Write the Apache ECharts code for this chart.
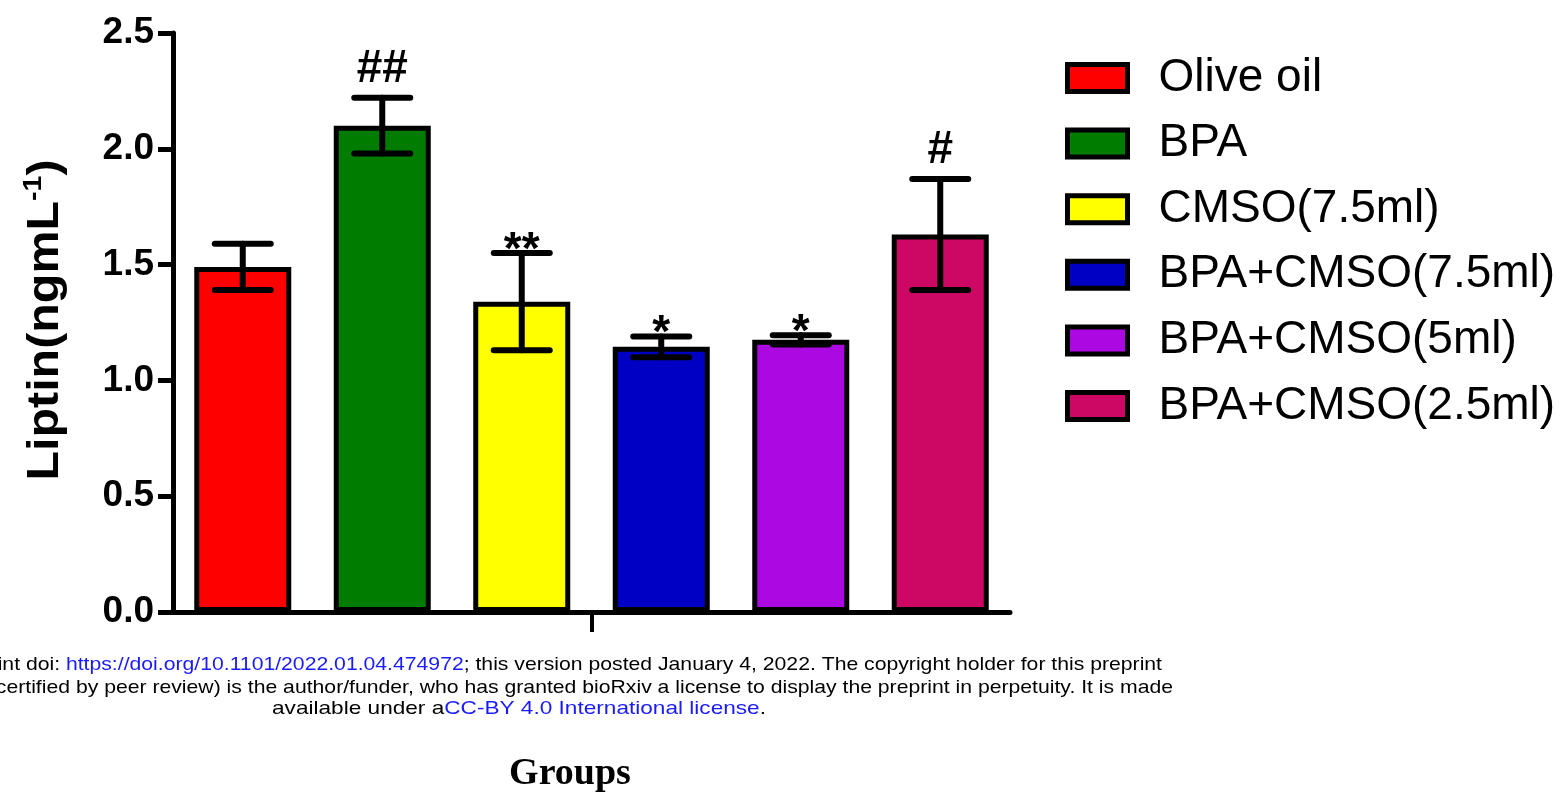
<!DOCTYPE html>
<html>
<head>
<meta charset="utf-8">
<script src="https://cdn.jsdelivr.net/npm/echarts@6/dist/echarts.min.js"></script>
<style>
  html, body { margin: 0; padding: 0; background: #fff; }
  #chart { width: 1560px; height: 802px; }
</style>
</head>
<body>
<div id="chart"></div>
<script>
// Leptin level per treatment group (mean ± SEM)
const groups = ['Olive oil', 'BPA', 'CMSO(7.5ml)', 'BPA+CMSO(7.5ml)', 'BPA+CMSO(5ml)', 'BPA+CMSO(2.5ml)'];
const means = [1.49, 2.10, 1.34, 1.145, 1.175, 1.63];
const sems = [0.10, 0.12, 0.21, 0.045, 0.02, 0.24];
const marks = ['', '##', '**', '*', '*', '#'];
const colors = ['#ff0000', '#007d00', '#ffff00', '#0000c4', '#ac08e2', '#cd0864'];
const yTicks = [0, 0.5, 1.0, 1.5, 2.0, 2.5];

const SANS = '"Liberation Sans", Arial, Helvetica, sans-serif';
const SERIF = '"Liberation Serif", "Times New Roman", serif';
const LINK = '#1a1aff';

const chart = echarts.init(document.getElementById('chart'), null, { renderer: 'canvas' });

// One bar series per group so every group gets its own legend entry
const barSeries = groups.map((name, i) => ({
  name,
  type: 'bar',
  barWidth: 97,
  barGap: '-100%',
  itemStyle: { color: colors[i], borderColor: '#000', borderWidth: 5 },
  data: groups.map((g, j) => (j === i ? means[i] : '-')),
  z: 2
}));

// Error bars with significance marks above the upper cap
const errorSeries = {
  name: 'SEM',
  type: 'custom',
  z: 5,
  data: means.map((m, i) => [i, m, sems[i]]),
  renderItem(params, api) {
    const i = api.value(0), m = api.value(1), s = api.value(2);
    const top = api.coord([i, m + s]);
    const bot = api.coord([i, m - s]);
    const x = top[0];
    const half = 28;
    const st = { stroke: '#000', lineWidth: 6, lineCap: 'round' };
    const children = [
      { type: 'line', shape: { x1: x, y1: top[1], x2: x, y2: bot[1] }, style: st },
      { type: 'line', shape: { x1: x - half, y1: top[1], x2: x + half, y2: top[1] }, style: st },
      { type: 'line', shape: { x1: x - half, y1: bot[1], x2: x + half, y2: bot[1] }, style: st }
    ];
    const mark = marks[params.dataIndex];
    if (mark) {
      const isHash = mark[0] === '#';
      children.push({
        type: 'text',
        x: x,
        y: top[1] - (isHash ? 29 : 2),
        style: {
          text: mark,
          font: 'bold 46px ' + SANS,
          fill: '#000',
          align: 'center',
          verticalAlign: 'middle'
        }
      });
    }
    return { type: 'group', children };
  }
};

const option = {
  backgroundColor: '#fff',
  animation: false,
  grid: { left: 173, right: 550, top: 33, bottom: 190 },
  legend: {
    data: groups,
    orient: 'vertical',
    left: 1065,
    top: 54,
    padding: 0,
    icon: 'rect',
    itemWidth: 60,
    itemHeight: 27,
    itemGap: 17.6,
    selectedMode: false,
    itemStyle: { borderColor: '#000', borderWidth: 5 },
    textStyle: {
      fontFamily: SANS,
      fontSize: 46,
      color: '#000',
      lineHeight: 48,
      padding: [0, 0, 0, 26]
    }
  },
  xAxis: [
    {
      type: 'category',
      data: groups,
      axisLine: { show: true, lineStyle: { color: '#000', width: 5 } },
      axisTick: { show: false },
      axisLabel: { show: false },
      splitLine: { show: false }
    },
    {
      // carries the single centre tick under the group axis
      type: 'value',
      min: 0,
      max: 2,
      position: 'bottom',
      axisLine: { show: false },
      axisTick: { show: true, customValues: [1], length: 20, lineStyle: { color: '#000', width: 4 } },
      axisLabel: { show: false },
      splitLine: { show: false }
    }
  ],
  yAxis: {
    type: 'value',
    min: yTicks[0],
    max: yTicks[yTicks.length - 1],
    interval: yTicks[1] - yTicks[0],
    axisLine: { show: true, lineStyle: { color: '#000', width: 5 } },
    axisTick: { show: true, length: 15, lineStyle: { color: '#000', width: 5 } },
    axisLabel: {
      margin: 19,
      fontFamily: SANS,
      fontSize: 37,
      fontWeight: 'bold',
      color: '#000',
      formatter: (v) => v.toFixed(1)
    },
    splitLine: { show: false }
  },
  graphic: [
    {
      type: 'text',
      x: 46,
      y: 320,
      rotation: Math.PI / 2,
      scaleX: 1.1,
      style: {
        text: '{a|Liptin(ngmL}{s|-1}{a|)}',
        align: 'center',
        verticalAlign: 'middle',
        rich: {
          a: { fontFamily: SANS, fontWeight: 'bold', fontSize: 44, lineHeight: 50, fill: '#000' },
          s: { fontFamily: SANS, fontWeight: 'bold', fontSize: 26, lineHeight: 50, verticalAlign: 'top', fill: '#000' }
        }
      }
    },
    {
      type: 'text',
      x: 570,
      y: 774,
      style: {
        text: 'Groups',
        font: 'bold 38px ' + SERIF,
        fill: '#000',
        align: 'center',
        verticalAlign: 'middle'
      }
    },
    {
      type: 'text',
      x: 1162,
      y: 665,
      scaleX: 1.115,
      style: {
        text: '{k|bioRxiv preprint doi: }{l|https://doi.org/10.1101/2022.01.04.474972}{k|; this version posted January 4, 2022. The copyright holder for this preprint}',
        align: 'right',
        verticalAlign: 'middle',
        rich: {
          k: { fontFamily: SANS, fontSize: 19, fill: '#000' },
          l: { fontFamily: SANS, fontSize: 19, fill: LINK }
        }
      }
    },
    {
      type: 'text',
      x: 1173,
      y: 688,
      scaleX: 1.115,
      style: {
        text: '(which was not certified by peer review) is the author/funder, who has granted bioRxiv a license to display the preprint in perpetuity. It is made',
        font: '19px ' + SANS,
        fill: '#000',
        align: 'right',
        verticalAlign: 'middle'
      }
    },
    {
      type: 'text',
      x: 519,
      y: 709,
      scaleX: 1.19,
      style: {
        text: '{k|available under a}{l|CC-BY 4.0 International license}{k|.}',
        align: 'center',
        verticalAlign: 'middle',
        rich: {
          k: { fontFamily: SANS, fontSize: 19, fill: '#000' },
          l: { fontFamily: SANS, fontSize: 19, fill: LINK }
        }
      }
    }
  ],
  series: [...barSeries, errorSeries]
};

chart.setOption(option);
</script>
</body>
</html>
